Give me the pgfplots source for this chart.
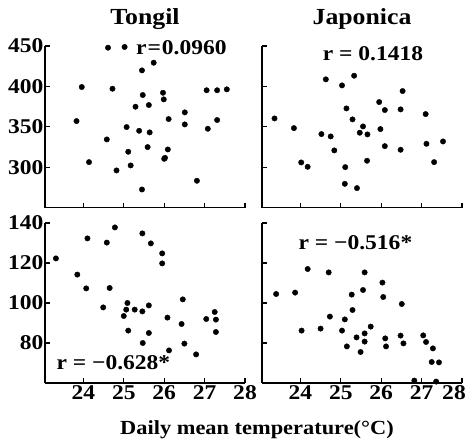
\documentclass[border=0pt]{standalone}
\usepackage{fontspec}
\setmainfont{Liberation Serif}[FakeStretch=1.12]
\usepackage{pgfplots}
\pgfplotsset{compat=1.18}
\newcommand\tickfont{\fontsize{21}{24}\selectfont\bfseries}
\newcommand\titlefont{\fontsize{23}{26}\selectfont\bfseries}
\newcommand\rfont{\fontsize{21}{24}\selectfont\bfseries}
\pgfplotsset{
  myax/.style={
    scale only axis, width=200pt,
    xmin=23.05, xmax=28, xtick={24,25,26,27,28},
    axis x line*=bottom, axis y line*=left,
    x axis line style={-}, y axis line style={-},
    axis line style={line width=1.3pt},
    tick align=inside, major tick length=5pt,
    tick style={line width=1.1pt, black},
    clip=false,
    ticklabel style={font=\tickfont},
    yticklabel style={inner sep=1.5pt},
    xticklabel style={inner sep=2pt},
    /pgf/number format/assume math mode=true,
  },
  topax/.style={myax, height=161.5pt, ymin=250, ymax=450, ytick={300,350,400,450}, xticklabels={}},
  botax/.style={myax, height=160pt, ymin=60, ymax=140, ytick={80,100,120,140}},
  pts/.style={only marks, mark=*, mark size=2.7pt, black},
}
\begin{document}
\begin{tikzpicture}
\useasboundingbox (0,0) rectangle (470pt,-438pt);
% Top-left: Tongil
\begin{axis}[topax, at={(45pt,-46pt)}, anchor=north west]
\addplot[pts] coordinates {
(24.61,447.9) (25.02,448.8) (23.96,399.2) (24.72,397.1) (23.83,357) (24.14,306.2)
(24.58,334.3) (24.82,295.9) (25.07,349.6) (25.11,319) (25.17,302.1) (25.29,374.8)
(25.45,419.8) (25.74,429.3) (25.47,389.3) (25.62,376.9) (25.38,345) (25.64,343)
(25.59,324.8) (25.45,272.3) (25.97,392.1) (25.99,383.9) (26.11,359.5) (26.09,321.9)
(26.00,310.3) (26.02,311.5) (26.51,367.8) (26.51,352.9) (26.81,283.1) (27.05,395.2)
(27.31,395.2) (27.55,396.3) (27.08,347.5) (27.31,358.3)
};
\node[font=\titlefont, anchor=base] at (rel axis cs:0.5,1) [yshift=21pt] {Tongil};
\node[font=\rfont, anchor=west, inner sep=0pt] at (axis cs:25.3,448) {r\kern1pt=\kern1pt0.0960};
\end{axis}
% Top-right: Japonica
\begin{axis}[topax, at={(262pt,-46pt)}, anchor=north west, yticklabels={}]
\addplot[pts] coordinates {
(23.36,360.3) (23.84,348.3) (24.02,305.8) (24.18,300.4) (24.63,408.7) (24.52,340.9)
(24.75,338) (24.84,320.7) (25.03,401.2) (25.33,413.2) (25.14,372.7) (25.29,359.1)
(25.55,350.4) (25.47,342.6) (25.66,340.5) (25.11,300) (25.10,279.3) (25.40,274)
(25.65,307.9) (25.95,380.6) (26.09,370.7) (25.98,347.1) (26.09,326) (26.53,394.2)
(26.48,371.5) (26.48,321.5) (27.10,365.7) (27.12,328.9) (27.31,306.2) (27.53,331.8)
};
\node[font=\titlefont, anchor=base] at (rel axis cs:0.5,1) [yshift=21pt] {Japonica};
\node[font=\rfont, anchor=west, inner sep=0pt] at (axis cs:24.55,440) {r = 0.1418};
\end{axis}
% Bottom-left: Tongil
\begin{axis}[botax, at={(45pt,-223pt)}, anchor=north west]
\addplot[pts] coordinates {
(23.32,122.3) (23.85,114.2) (24.07,107.3) (24.10,132.3) (24.58,130.2) (24.78,137.8)
(24.65,107.5) (24.49,97.8) (25.09,100) (25.06,96.7) (25.00,93.5) (25.27,96.7)
(25.11,86.2) (25.46,134.8) (25.67,129.8) (25.46,95.8) (25.62,98.8) (25.62,85)
(25.47,80) (25.95,124.8) (25.95,119.8) (26.08,92.7) (26.12,76.3) (26.46,101.8)
(26.43,89.5) (26.50,79.7) (26.79,74.3) (27.04,92) (27.25,95.5) (27.28,91.7) (27.28,85.5)
};
\node[font=\rfont, anchor=west, inner sep=0pt] at (axis cs:23.33,70) {r = −0.628*};
\end{axis}
% Bottom-right: Japonica
\begin{axis}[botax, at={(262pt,-223pt)}, anchor=north west, yticklabels={},
  xticklabels={24,25,26,27,{\hspace*{-16pt}28}}]
\addplot[pts] coordinates {
(23.40,104.5) (23.87,105.2) (24.18,117) (24.03,86.2) (24.70,115.3) (24.50,87.2)
(24.73,93.2) (25.03,86.2) (25.10,91.8) (25.15,78.3) (25.27,104.2) (25.29,96.5)
(25.55,106.5) (25.59,115.3) (25.39,82.8) (25.59,84.8) (25.59,80.7) (25.49,75.5)
(25.74,88.2) (26.03,110.2) (26.05,103) (26.10,82.3) (26.12,78.3) (26.51,99.5)
(26.48,83.7) (26.55,79.8) (26.82,61.2) (27.04,83.8) (27.11,80.5) (27.28,77.3)
(27.25,70.5) (27.43,70.3) (27.36,60.7)
};
\node[font=\rfont, anchor=west, inner sep=0pt] at (axis cs:23.95,130) {r = −0.516*};
\end{axis}
\node[font=\fontsize{20}{24}\selectfont\bfseries, anchor=base] at (257pt,-434pt) {Daily mean temperature(°C)};
\end{tikzpicture}
\end{document}
